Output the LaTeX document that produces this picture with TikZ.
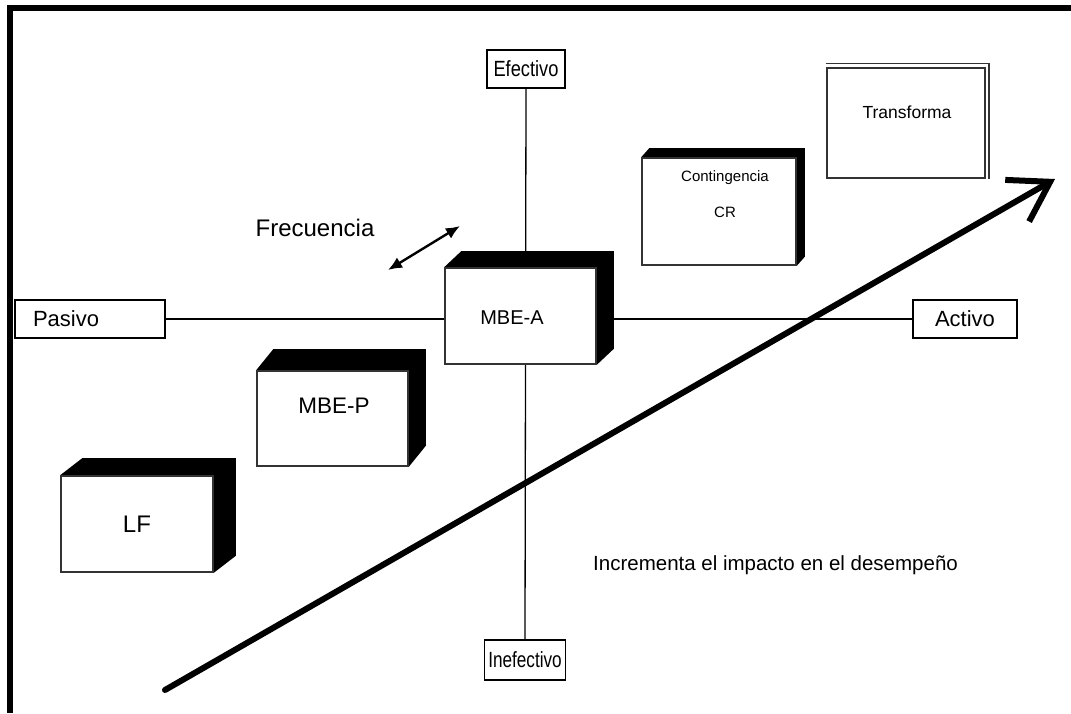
\documentclass[tikz,border=0pt]{standalone}
\usepackage{graphicx}
\usepackage{fontspec}
\setmainfont{Liberation Sans}
\usetikzlibrary{arrows.meta}
\pgfdeclarelayer{bg}
\pgfsetlayers{bg,main}
% black top/right faces behind a front face node
\newcommand\shadebox[3]{%
  \begin{pgfonlayer}{bg}
    \fill (#1.north west) -- ++(#2,-#3)
      -- ([shift={(#2,-#3)}]#1.north east)
      -- ([shift={(#2,-#3)}]#1.south east)
      -- (#1.south east) -- cycle;
  \end{pgfonlayer}}
\newcommand\fs[1]{\fontsize{#1}{#1}\selectfont}
\begin{document}
\begin{tikzpicture}[x=1pt,y=-1pt,
  axisbox/.style={draw, line width=1.2pt, inner sep=0pt, fill=white},
  face/.style={draw=black!80, line width=1.6pt, fill=white, inner sep=0pt},
  axis/.style={line width=1.3pt},
  lbl/.style={inner sep=0pt},
]
\useasboundingbox (0,0) rectangle (1071,713);
% page frame (top and left edges)
\fill (7,5) rectangle (1071,11);
\fill (7,5) rectangle (13,713);

% axis end boxes
\node[axisbox, minimum width=78pt, minimum height=38pt, font=\fs{22}] (efe) at (526,69) {\scalebox{0.83}[1]{Efectivo}};
\node[axisbox, minimum width=81pt, minimum height=40pt, font=\fs{22}] (inef) at (525,660) {\scalebox{0.78}[1]{Inefectivo}};
\node[axisbox, minimum width=150pt, minimum height=38pt, text width=114pt, align=left, inner xsep=18pt, font=\fs{22}] (pas) at (90,319) {Pasivo};
\node[axisbox, minimum width=104pt, minimum height=38pt, font=\fs{22}] (act) at (965,319) {Activo};

% axes
\begin{pgfonlayer}{bg}
  \draw[axis] (efe.south) -- (inef.north);
  \draw[axis] (pas.east) -- (act.west);
\end{pgfonlayer}

% style boxes
\node[face, minimum width=151pt, minimum height=96pt] (mbea) at (520.5,316) {};
\shadebox{mbea}{17}{16}
\node[lbl, font=\fs{20}] (mbeat) at (512,318) {MBE-A};
\node[face, minimum width=151pt, minimum height=95pt] (mbep) at (332.5,418.5) {};
\shadebox{mbep}{17}{21}
\node[lbl, font=\fs{22.5}] (mbept) at (334,406) {MBE-P};
\node[face, minimum width=152pt, minimum height=96pt, font=\fs{24}] (lf) at (137,524) {LF};
\shadebox{lf}{22}{17}
\node[face, minimum width=154pt, minimum height=107pt] (cont) at (719,211.5) {};
\shadebox{cont}{8}{9}
\node[lbl, font=\fs{15}] (contt) at (725,178) {Contingencia};
\node[lbl, font=\fs{15}] (crt) at (725,212) {CR};
\node[face, minimum width=158pt, minimum height=110pt] (trans) at (906,123) {};
\draw[black!80, line width=1.4pt] ([yshift=4pt]trans.north west) -- ([shift={(3,-4)}]trans.north east) -- ([xshift=3pt]trans.south east);
\node[lbl, font=\fs{17.5}] (transt) at (907,112) {Transforma};

% frequency
\node[lbl, font=\fs{24}] (frec) at (315,228) {Frecuencia};
\coordinate (fa) at (388,270);
\coordinate (fb) at (460,226);
\draw[line width=2.4pt, {Latex[length=14pt,width=12pt]}-{Latex[length=14pt,width=12pt]}] (fa) -- (fb);

% performance arrow
\coordinate (pa) at (165,690);
\coordinate (pb) at (1055,179);
\draw[line width=6pt, line cap=round, -{Straight Barb[length=38pt,width=48pt,line width=6pt]}] (pa) -- (pb);
\node[lbl, anchor=west, font=\fs{20.5}] (inc) at (593,565) {Incrementa el impacto en el desempeño};
\end{tikzpicture}
\end{document}
